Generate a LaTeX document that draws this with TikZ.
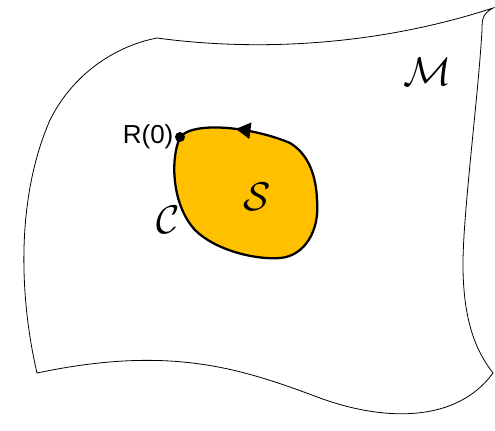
\RequirePackage{fix-cm}
\documentclass[tikz,border=0pt]{standalone}
\usepackage{fontspec}
\usepackage{tikz}
\usetikzlibrary{arrows.meta,decorations.markings}
\newfontfamily\etiketFont{Liberation Sans}
\definecolor{bolgeSari}{HTML}{FFC000}
\definecolor{kenarSiyah}{HTML}{000000}

\begin{document}
\begin{tikzpicture}[x=0.75pt,y=-0.75pt,
  yuzey/.style={draw=kenarSiyah,line width=0.6pt},
  bolge/.style={draw=kenarSiyah,fill=bolgeSari,line width=1.7pt,
                postaction={decorate},
                decoration={markings,mark=at position 0.87 with
                  {\arrow{Triangle[length=11pt,width=12pt]}}}},
  harf/.style={font=\fontsize{30}{32}\selectfont},
  etiket/.style={font=\etiketFont\fontsize{19.5}{22}\selectfont,inner sep=1pt}]
\useasboundingbox (0,0) rectangle (495,430);
% manifold sheet
\draw[yuzey] (157,38) .. controls (260,52) and (380,45) .. (493,8)
  .. controls (482,14) and (482,20) .. (482,30)
  .. controls (478,100) and (462,220) .. (463,270)
  .. controls (464,320) and (475,350) .. (493,373)
  .. controls (455,425) and (380,420) .. (320,398)
  .. controls (240,368) and (170,345) .. (37,373)
  .. controls (20,300) and (15,200) .. (50,120)
  .. controls (75,70) and (120,45) .. cycle;
% region S bounded by C
\coordinate (r0pt) at (180,137);
\draw[bolge] (r0pt) .. controls (170,160) and (172,205) .. (195,230)
  .. controls (215,250) and (255,260) .. (280,258)
  .. controls (305,256) and (320,230) .. (317,200)
  .. controls (316,170) and (305,152) .. (290,143)
  .. controls (255,128) and (195,120) .. cycle;
\fill (r0pt) circle (5);
\node[etiket,anchor=east] (r0) at (175,137) {R(0)};
\node[harf] (m) at (428,72) {$\mathcal{M}$};
\node[harf] (s) at (257,197) {$\mathcal{S}$};
\node[harf] (c) at (168,220) {$\mathcal{C}$};
\end{tikzpicture}
\end{document}
